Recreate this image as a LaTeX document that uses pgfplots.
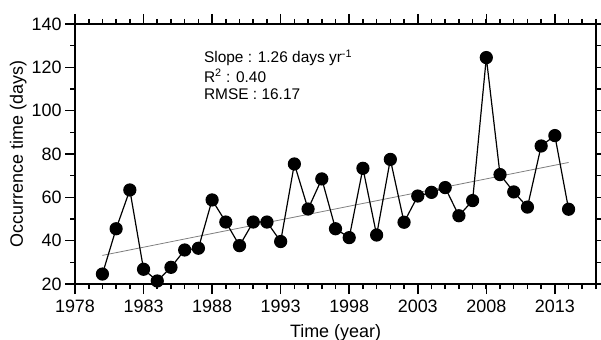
\documentclass[border=0pt]{standalone}
\usepackage{pgfplots}
\pgfplotsset{compat=1.18}
\usepackage{fontspec}
\setmainfont{Liberation Sans}
\begin{document}
\begin{tikzpicture}
\useasboundingbox (-75bp,-56bp) rectangle (526bp,284bp);
\begin{axis}[
  at={(0,0)}, anchor=south west,
  scale only axis, width=521bp, height=260bp,
  xmin=1978, xmax=2016, ymin=20, ymax=140,
  xtick={1978,1983,...,2013},
  minor xtick={1979,...,2016},
  ytick={20,40,...,140},
  minor ytick={30,50,...,130},
  tick align=outside,
  major tick length=10bp, minor tick length=5bp,
  axis line style={line width=2bp},
  every tick/.style={black, line width=1.6bp},
  /pgf/number format/assume math mode=true,
  x tick label style={/pgf/number format/1000 sep={}},
  tick label style={font=\fontsize{18}{20}\selectfont},
  xticklabel style={yshift=-2bp},
  xlabel={Time (year)}, ylabel={Occurrence time (days)},
  label style={font=\fontsize{18}{20}\selectfont},
  xlabel style={yshift=-5bp},
  ylabel style={yshift=-2bp},
  clip=false,
]
\addplot[gray, line width=0.8bp] coordinates {(1980,33.2) (2014,76.1)};
\addplot[black, line width=1.2bp, mark=*, mark size=6bp, mark options={solid}] coordinates {
(1980,24.6) (1981,45.5) (1982,63.4) (1983,26.8) (1984,21.4) (1985,27.7)
(1986,35.7) (1987,36.5) (1988,58.8) (1989,48.6) (1990,37.7) (1991,48.6)
(1992,48.6) (1993,39.6) (1994,75.4) (1995,54.6) (1996,68.5) (1997,45.5)
(1998,41.4) (1999,73.4) (2000,42.6) (2001,77.5) (2002,48.5) (2003,60.6)
(2004,62.3) (2005,64.5) (2006,51.5) (2007,58.5) (2008,124.5) (2009,70.5)
(2010,62.5) (2011,55.5) (2012,83.7) (2013,88.5) (2014,54.5)};
\node[anchor=base west, inner sep=0pt, font=\fontsize{15.5}{18}\selectfont] at (axis cs:1987.4,122) {Slope : 1.26 days yr\textsuperscript{-1}};
\node[anchor=base west, inner sep=0pt, font=\fontsize{15.5}{18}\selectfont] at (axis cs:1987.4,113.2) {R\textsuperscript{2} : 0.40};
\node[anchor=base west, inner sep=0pt, font=\fontsize{15.5}{18}\selectfont] at (axis cs:1987.4,105.2) {RMSE : 16.17};
\end{axis}
\end{tikzpicture}
\end{document}
